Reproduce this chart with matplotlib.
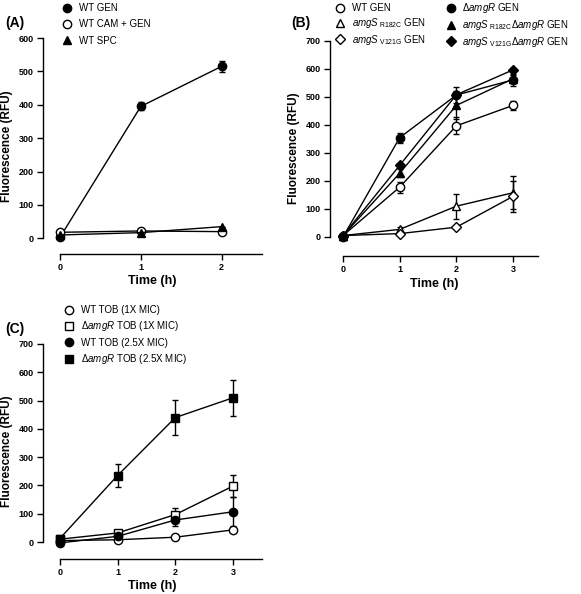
import matplotlib
matplotlib.use("Agg")
import matplotlib.pyplot as plt
from matplotlib.lines import Line2D

plt.rcParams["font.family"] = ["Liberation Sans", "DejaVu Sans"]
plt.rcParams["mathtext.fontset"] = "custom"
plt.rcParams["mathtext.rm"] = "Liberation Sans"
plt.rcParams["mathtext.it"] = "Liberation Sans:italic"

W, H = 581, 594

# ---- Panel A data ----
t_a = [0, 1, 2]
a_wt_gen = [3, 395, 515]
a_wt_gen_err = [0, 12, 16]
a_wt_cam_gen = [18, 22, 20]
a_wt_cam_gen_err = [0, 0, 0]
a_wt_spc = [10, 17, 35]
a_wt_spc_err = [0, 0, 0]

# ---- Panel B data ----
t_b = [0, 1, 2, 3]
b_wt_gen = [5, 178, 397, 470]
b_wt_gen_err = [0, 20, 30, 15]
b_r182c = [5, 27, 110, 158]
b_r182c_err = [0, 10, 45, 58]
b_v121g = [5, 12, 35, 145]
b_v121g_err = [0, 0, 0, 55]
b_damgr = [0, 355, 507, 561]
b_damgr_err = [0, 18, 28, 20]
b_r182c_damgr = [5, 228, 470, 565]
b_r182c_damgr_err = [0, 15, 50, 15]
b_v121g_damgr = [5, 256, 508, 597]
b_v121g_damgr_err = [0, 0, 0, 0]

# ---- Panel C data ----
t_c = [0, 1, 2, 3]
c_wt_1x = [5, 8, 17, 43]
c_wt_1x_err = [0, 0, 0, 0]
c_damgr_1x = [10, 32, 97, 198]
c_damgr_1x_err = [0, 0, 25, 40]
c_wt_25x = [-3, 20, 78, 107]
c_wt_25x_err = [0, 0, 20, 52]
c_damgr_25x = [12, 235, 440, 510]
c_damgr_25x_err = [0, 42, 62, 63]


def px_axes(fig, left, right, top, bottom):
    return fig.add_axes([left / W, 1 - bottom / H, (right - left) / W, (bottom - top) / H])


def style_axes(ax, xmin, xmax, ymax, ymin, xticks, yticks):
    ax.set_xlim(xmin, xmax)
    ax.set_ylim(ymin, ymax)
    for s in ("top", "right"):
        ax.spines[s].set_visible(False)
    ax.spines["left"].set_bounds(0, ymax)
    ax.spines["bottom"].set_bounds(0, xmax)
    for s in ("left", "bottom"):
        ax.spines[s].set_linewidth(1.0)
    ax.set_xticks(xticks)
    ax.set_yticks(yticks)
    ax.tick_params(direction="out", length=4, width=1.0, labelsize=6.5, pad=2.5)
    for lab in ax.get_xticklabels() + ax.get_yticklabels():
        lab.set_fontweight("bold")
    ax.set_xlabel("Time (h)", fontsize=9, fontweight="bold", labelpad=2.5)
    ax.set_ylabel("Fluorescence (RFU)", fontsize=8.5, fontweight="bold", labelpad=4)
    ax.patch.set_alpha(0)


def series(ax, t, y, err, marker, filled, ms=6):
    ax.errorbar(t, y, yerr=err, fmt="-", marker=marker, color="black", lw=1.0,
                ms=ms, mfc="black" if filled else "white", mec="black", mew=1.0,
                ecolor="black", elinewidth=1.0, capsize=2.5, capthick=1.0,
                clip_on=False)
    return Line2D([], [], ls="none", marker=marker, ms=ms,
                  mfc="black" if filled else "white", mec="black", mew=1.0)


def legend(ax, handles, labels, x, y, **kw):
    opts = dict(loc="upper left", bbox_to_anchor=(x / W, 1 - y / H),
                bbox_transform=ax.figure.transFigure, frameon=False, fontsize=7,
                handlelength=0.8, handletextpad=0.8, borderpad=0, borderaxespad=0)
    opts.update(kw)
    ax.legend(handles, labels, **opts)


fig = plt.figure(figsize=(W / 100, H / 100), dpi=100)

# ---- (A) ----
ax = px_axes(fig, 43, 262, 38, 254)
h = [series(ax, t_a, a_wt_gen, a_wt_gen_err, "o", True),
     series(ax, t_a, a_wt_cam_gen, a_wt_cam_gen_err, "o", False),
     series(ax, t_a, a_wt_spc, a_wt_spc_err, "^", True)]
style_axes(ax, -0.21, 2.5, 600, -47, [0, 1, 2], range(0, 601, 100))
legend(ax, h, ["WT GEN", "WT CAM + GEN", "WT SPC"], 63, 3, labelspacing=0.65)
fig.text(5 / W, 1 - 23 / H, "(A)", fontsize=10, fontweight="bold", va="center", ha="left")

# ---- (B) ----
ax = px_axes(fig, 330, 538, 41, 256)
h = [series(ax, t_b, b_wt_gen, b_wt_gen_err, "o", False),
     series(ax, t_b, b_r182c, b_r182c_err, "^", False),
     series(ax, t_b, b_v121g, b_v121g_err, "D", False, ms=5.5),
     series(ax, t_b, b_damgr, b_damgr_err, "o", True),
     series(ax, t_b, b_r182c_damgr, b_r182c_damgr_err, "^", True),
     series(ax, t_b, b_v121g_damgr, b_v121g_damgr_err, "D", True, ms=5.5)]
labels = ["WT GEN",
          r"$\it{amgS}$$_{\rm\ R182C}$ GEN",
          r"$\it{amgS}$$_{\rm\ V121G}$ GEN",
          r"Δ$\it{amgR}$ GEN",
          r"$\it{amgS}$$_{\rm\ R182C}$Δ$\it{amgR}$ GEN",
          r"$\it{amgS}$$_{\rm\ V121G}$Δ$\it{amgR}$ GEN"]
style_axes(ax, -0.23, 3.44, 700, -68, [0, 1, 2, 3], range(0, 701, 100))
legend(ax, h, labels, 336, 1, ncol=2, labelspacing=0.3, columnspacing=2.2)
fig.text(291 / W, 1 - 23 / H, "(B)", fontsize=10, fontweight="bold", va="center", ha="left")

# ---- (C) ----
ax = px_axes(fig, 43, 262, 344, 559)
h = [series(ax, t_c, c_wt_1x, c_wt_1x_err, "o", False),
     series(ax, t_c, c_damgr_1x, c_damgr_1x_err, "s", False),
     series(ax, t_c, c_wt_25x, c_wt_25x_err, "o", True),
     series(ax, t_c, c_damgr_25x, c_damgr_25x_err, "s", True)]
labels = ["WT TOB (1X MIC)", r"Δ$\it{amgR}$ TOB (1X MIC)",
          "WT TOB (2.5X MIC)", r"Δ$\it{amgR}$ TOB (2.5X MIC)"]
style_axes(ax, -0.29, 3.5, 700, -60, [0, 1, 2, 3], range(0, 701, 100))
legend(ax, h, labels, 65, 305, labelspacing=0.45)
fig.text(5 / W, 1 - 329 / H, "(C)", fontsize=10, fontweight="bold", va="center", ha="left")

fig.savefig("out.png", dpi=100)
